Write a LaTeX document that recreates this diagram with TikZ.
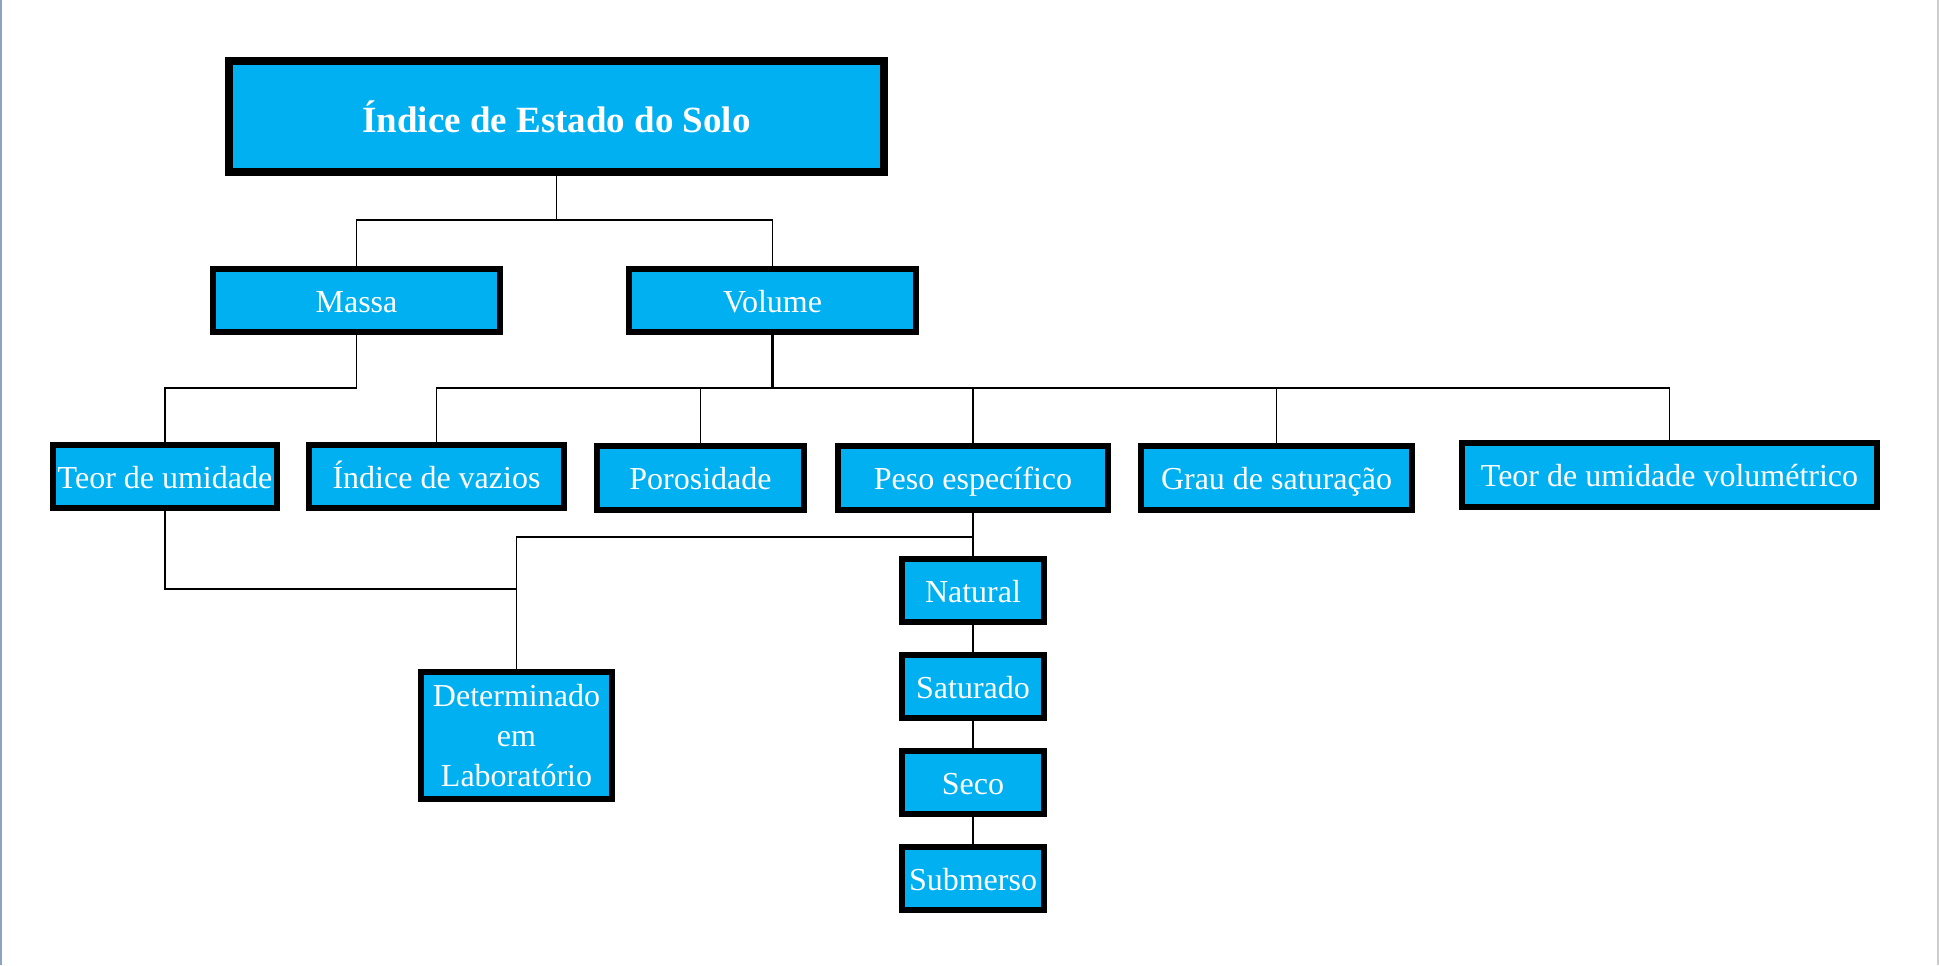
\documentclass[tikz,border=0pt]{standalone}
\usepackage{fontspec}
\setmainfont{Liberation Serif}
\definecolor{azul}{HTML}{00B0F0}
\definecolor{borda}{HTML}{8FA3C0}
\tikzset{
  caixa/.style={draw=black, fill=azul, text=white, line width=2.8pt, inner sep=0pt,
    font=\fontsize{16}{19}\selectfont, align=center, minimum height=31.7pt},
  item/.style={caixa, text height=12pt, text depth=0.5pt},
  liga/.style={draw=black, line width=0.8pt},
}
\begin{document}
\begin{tikzpicture}[x=0.5pt,y=-0.5pt]
\useasboundingbox[fill=white] (0,0) rectangle (1939,965);
\draw[borda, line width=1pt] (1,0) -- (1,965);
\draw[black!20, line width=1pt] (1938,0) -- (1938,965);

\node[caixa, line width=4pt, minimum width=327.5pt, minimum height=55.5pt,
  font=\fontsize{18.5}{22}\selectfont\bfseries] (titulo) at (556.5,116.5) {Índice de Estado do Solo};

\node[item, minimum width=143.7pt] (massa) at (356.5,300.5) {Massa};
\node[item, minimum width=143.7pt] (volume) at (772.5,300.5) {Volume};

\node[item, minimum width=112.2pt] (teor) at (165,476.5) {Teor de umidade};
\node[item, minimum width=127.7pt] (vazios) at (436.5,476.5) {Índice de vazios};
\node[item, minimum width=103.7pt, minimum height=32.2pt] (poros) at (700.5,478) {Porosidade};
\node[item, minimum width=135.2pt, minimum height=32.2pt] (peso) at (973,478) {Peso específico};
\node[item, minimum width=135.7pt, minimum height=32.2pt] (grau) at (1276.5,478) {Grau de saturação};
\node[item, minimum width=207.7pt, minimum height=32.2pt] (teorvol) at (1669.5,475) {Teor de umidade volumétrico};

\node[item, minimum width=71.2pt] (natural) at (973,590.5) {Natural};
\node[item, minimum width=71.2pt] (saturado) at (973,686.5) {Saturado};
\node[item, minimum width=71.2pt] (seco) at (973,782.5) {Seco};
\node[item, minimum width=71.2pt] (submerso) at (973,878.5) {Submerso};

\node[caixa, minimum width=95.7pt, minimum height=63.7pt,
  font=\fontsize{16}{20}\selectfont] (lab) at (516.5,735.5) {Determinado\\em\\Laboratório};

% ligacoes
\coordinate (r1) at (556.5,220);
\coordinate (r2) at (356.5,388);
\coordinate (r3) at (772.5,388);
\coordinate (r4) at (973,537);
\coordinate (r5) at (516.5,589);

\draw[liga] (titulo.south) -- (r1) -| (massa.north);
\draw[liga] (r1) -| (volume.north);
\draw[liga] (massa.south) -- (r2) -| (teor.north);
\draw[liga, line width=1.6pt] (volume.south) -- (r3);
\foreach \f in {vazios,poros,peso,grau,teorvol}
  \draw[liga] (r3) -| (\f.north);
\draw[liga] (peso.south) -- (natural.north);
\draw[liga] (r4) -| (lab.north);
\draw[liga] (teor.south) |- (r5);
\foreach \a/\b in {natural/saturado,saturado/seco,seco/submerso}
  \draw[liga] (\a.south) -- (\b.north);
\end{tikzpicture}
\end{document}
